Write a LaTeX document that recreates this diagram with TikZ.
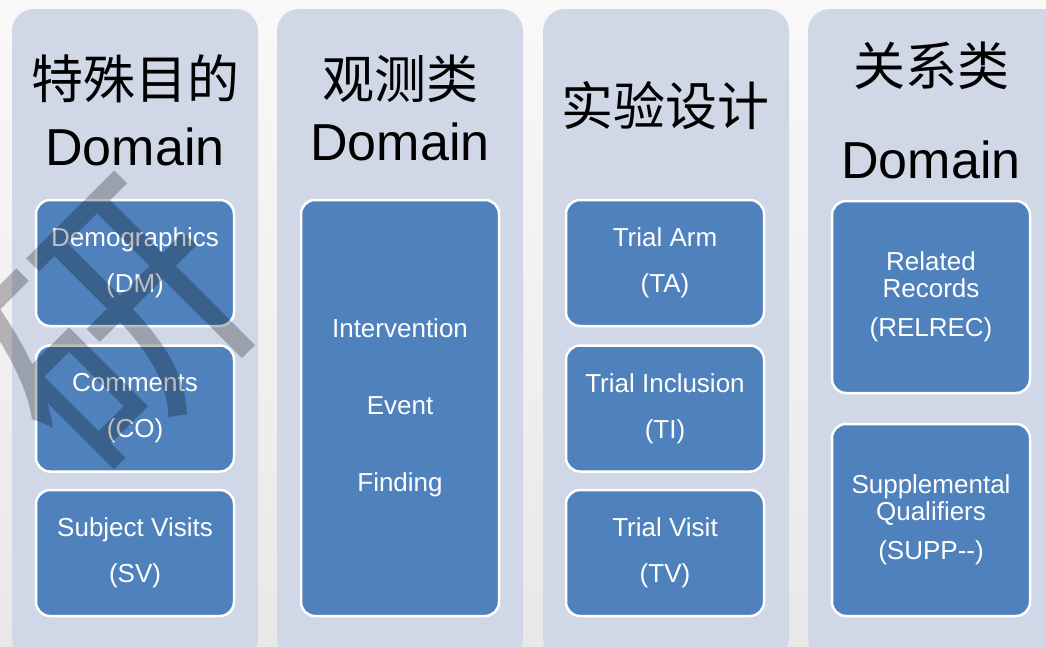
\documentclass[tikz,border=0pt]{standalone}
\usepackage{fontspec}
\setmainfont{Liberation Sans}
\newfontfamily\cjk{Noto Sans CJK SC}
\usetikzlibrary{positioning}

\definecolor{colbg}{HTML}{D0D8E8}
\definecolor{boxblue}{HTML}{4F81BD}
\definecolor{wmgray}{gray}{0.745}

\tikzset{
    column/.style={fill=colbg, rounded corners=22pt},
    domainbox/.style={draw=white, line width=2.5pt, fill=boxblue, rounded corners=14pt,
        text=white, align=center, minimum width=198pt, inner sep=0pt,
        font=\fontsize{26}{46}\selectfont},
    smallbox/.style={domainbox, minimum height=126pt},
    tallbox/.style={domainbox, minimum height=192pt},
    title/.style={align=center, text=black}
}

\begin{document}
\begin{tikzpicture}[x=1pt, y=-1pt]
    \useasboundingbox (0,0) rectangle (1046,646);
    \clip (0,0) rectangle (1046,646);
    \shade[top color=gray!5, bottom color=gray!18] (0,0) rectangle (1046,646);

    \fill[column] (12,9) rectangle (258,660);
    \fill[column] (277,9) rectangle (523,660);
    \fill[column] (543,9) rectangle (789,660);
    \fill[column] (808,9) rectangle (1070,660);

    % titles
    \node[title, font=\fontsize{52}{67}\selectfont] (t1) at (135,110) {{\cjk 特殊目的}\\Domain};
    \node[title, font=\fontsize{52}{62}\selectfont] (t2) at (400,108) {{\cjk 观测类}\\Domain};
    \node[title, font=\fontsize{52}{62}\selectfont] (t3) at (665,106) {\cjk 实验设计};
    \node[title, font=\fontsize{52}{93}\selectfont] (t4) at (931,110) {{\cjk 关系类}\\Domain};

    % special purpose
    \node[smallbox] (dm) at (135,263) {Demographics\\(DM)};
    \node[smallbox] (co) at (135,408.5) {Comments\\(CO)};
    \node[smallbox] (sv) at (135,553) {Subject Visits\\(SV)};

    % observation classes
    \node[domainbox, minimum height=416pt, font=\fontsize{26}{77}\selectfont] (obs) at (400,408)
        {Intervention\\Event\\Finding};

    % trial design
    \node[smallbox] (ta) at (665,263) {Trial Arm\\(TA)};
    \node[smallbox] (ti) at (665,408.5) {Trial Inclusion\\(TI)};
    \node[smallbox] (tv) at (665,553) {Trial Visit\\(TV)};

    % relationship
    \node[tallbox, font=\fontsize{26}{27}\selectfont] (relrec) at (931,297)
        {Related\\Records\\[12pt](RELREC)};
    \node[tallbox, font=\fontsize{26}{27}\selectfont] (supp) at (931,520)
        {Supplemental\\Qualifiers\\[12pt](SUPP-{}-)};

    % watermark
    \begin{scope}[blend mode=multiply]
        \node[rotate=45, text=wmgray, font=\cjk\fontsize{258}{258}\selectfont] (wm) at (114,330) {研};
    \end{scope}
\end{tikzpicture}
\end{document}
